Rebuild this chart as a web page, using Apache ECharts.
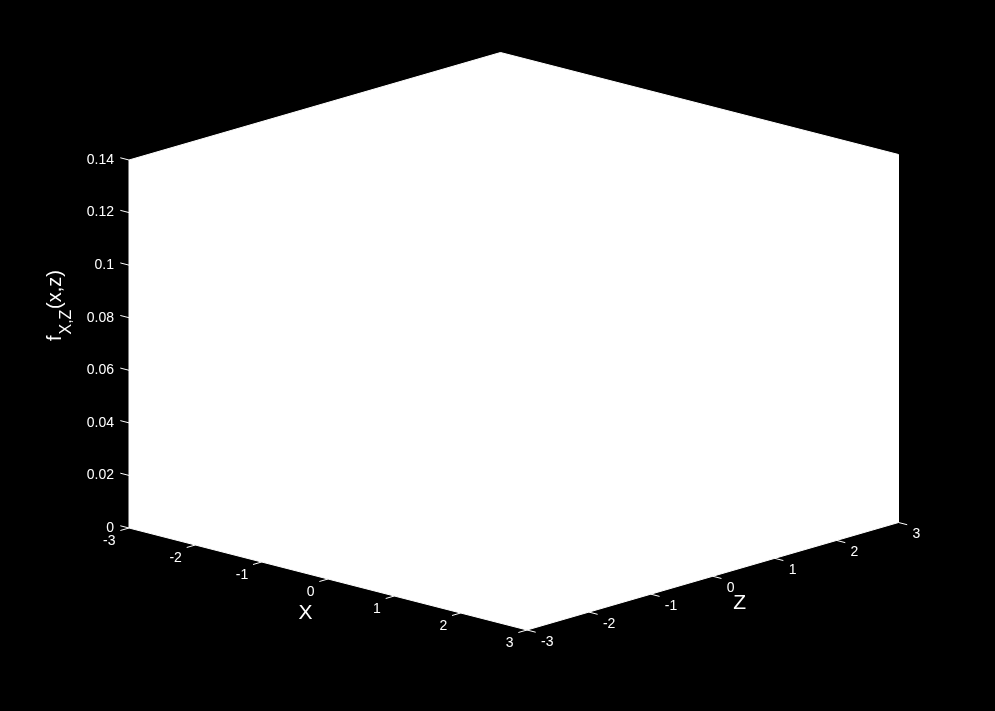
<!DOCTYPE html>
<html>
<head>
<meta charset="utf-8">
<script src="https://cdn.jsdelivr.net/npm/echarts@6/dist/echarts.min.js"></script>
<style>
html,body{margin:0;padding:0;background:#000;}
#c{width:995px;height:711px;}
</style>
</head>
<body>
<div id="c"></div>
<script>
// ---- data ----
const xTicks = [-3, -2, -1, 0, 1, 2, 3];
const zTicks = [-3, -2, -1, 0, 1, 2, 3];
const fTicks = [0, 0.02, 0.04, 0.06, 0.08, 0.1, 0.12, 0.14];
const fTickLabels = ['0', '0.02', '0.04', '0.06', '0.08', '0.1', '0.12', '0.14'];
const xRange = [-3, 3];
const zRange = [-3, 3];
const fRange = [0, 0.14];
const xTitle = 'X';
const zTitle = 'Z';

// ---- projection (orthographic view, layout constants) ----
const ORIGIN = [129, 528];
const EX = [398 / 6, 102 / 6];
const EZ = [371.5 / 6, -107.5 / 6];
const EF = [0, -368 / 0.14];
function proj(x, z, f) {
  const dx = x - xRange[0], dz = z - zRange[0], df = f - fRange[0];
  return [ORIGIN[0] + dx * EX[0] + dz * EZ[0] + df * EF[0],
          ORIGIN[1] + dx * EX[1] + dz * EZ[1] + df * EF[1]];
}
function unit(v) { const l = Math.hypot(v[0], v[1]); return [v[0] / l, v[1] / l]; }
const UX = unit(EX), UZ = unit(EZ);
const TICK = 9;
const FONT = 'Liberation Sans, Arial, Helvetica, sans-serif';
const WHITE = '#ffffff';

const chart = echarts.init(document.getElementById('c'), null, {renderer: 'canvas'});

const option = {
  backgroundColor: '#000000',
  animation: false,
  grid: {left: 0, right: 0, top: 0, bottom: 0},
  xAxis: {type: 'value', min: 0, max: 995, show: false},
  yAxis: {type: 'value', min: 0, max: 711, inverse: true, show: false},
  series: [
    {
      type: 'custom',
      silent: true,
      data: [[0]],
      renderItem: function (params, api) {
        const [x0, x1] = xRange, [z0, z1] = zRange, [f0, f1] = fRange;
        const pts = [
          proj(x0, z0, f0), proj(x1, z0, f0), proj(x1, z1, f0),
          proj(x1, z1, f1), proj(x0, z1, f1), proj(x0, z0, f1)
        ].map(p => api.coord(p));
        return {type: 'polygon', shape: {points: pts}, style: {fill: WHITE, stroke: WHITE, lineWidth: 1}};
      }
    },
    // f (vertical) axis ticks
    {
      type: 'custom',
      silent: true,
      data: fTicks.map((f, i) => [f, i]),
      renderItem: function (params, api) {
        const f = api.value(0), i = api.value(1);
        const p = proj(xRange[0], zRange[0], f);
        const a = api.coord(p);
        const b = api.coord([p[0] - TICK * UX[0], p[1] - TICK * UX[1]]);
        return {type: 'group', children: [
          {type: 'line', shape: {x1: a[0], y1: a[1], x2: b[0], y2: b[1]}, style: {stroke: WHITE, lineWidth: 1}},
          {type: 'text', style: {text: fTickLabels[i], x: a[0] - 15, y: a[1], fill: WHITE,
            font: '14px ' + FONT, align: 'right', verticalAlign: 'middle'}}
        ]};
      }
    },
    // x axis ticks
    {
      type: 'custom',
      silent: true,
      data: xTicks.map(v => [v]),
      renderItem: function (params, api) {
        const x = api.value(0);
        const p = proj(x, zRange[0], fRange[0]);
        const a = api.coord(p);
        const b = api.coord([p[0] - TICK * UZ[0], p[1] - TICK * UZ[1]]);
        return {type: 'group', children: [
          {type: 'line', shape: {x1: a[0], y1: a[1], x2: b[0], y2: b[1]}, style: {stroke: WHITE, lineWidth: 1}},
          {type: 'text', style: {text: String(x), x: a[0] - 13.5, y: a[1] + 13, fill: WHITE,
            font: '14px ' + FONT, align: 'right', verticalAlign: 'middle'}}
        ]};
      }
    },
    // z axis ticks
    {
      type: 'custom',
      silent: true,
      data: zTicks.map(v => [v]),
      renderItem: function (params, api) {
        const z = api.value(0);
        const p = proj(xRange[1], z, fRange[0]);
        const a = api.coord(p);
        const b = api.coord([p[0] + TICK * UX[0], p[1] + TICK * UX[1]]);
        return {type: 'group', children: [
          {type: 'line', shape: {x1: a[0], y1: a[1], x2: b[0], y2: b[1]}, style: {stroke: WHITE, lineWidth: 1}},
          {type: 'text', style: {text: String(z), x: a[0] + 14, y: a[1] + 12, fill: WHITE,
            font: '14px ' + FONT, align: 'left', verticalAlign: 'middle'}}
        ]};
      }
    },
    // axis titles
    {
      type: 'custom',
      silent: true,
      data: [[0]],
      renderItem: function (params, api) {
        const xm = (xRange[0] + xRange[1]) / 2, zm = (zRange[0] + zRange[1]) / 2;
        const px = api.coord(proj(xm, zRange[0], fRange[0]));
        const pz = api.coord(proj(xRange[1], zm, fRange[0]));
        return {type: 'group', children: [
          {type: 'text', style: {text: xTitle, x: px[0] - 22.5, y: px[1] + 34, fill: WHITE,
            font: '21px ' + FONT, align: 'center', verticalAlign: 'middle'}},
          {type: 'text', style: {text: zTitle, x: pz[0] + 27, y: pz[1] + 27, fill: WHITE,
            font: '21px ' + FONT, align: 'center', verticalAlign: 'middle'}}
        ]};
      }
    }
  ],
  graphic: [
    {
      type: 'group',
      x: 55, y: 341,
      rotation: Math.PI / 2,
      silent: true,
      children: [
        {type: 'text', x: 0, y: 0, style: {text: 'f', fill: WHITE, font: '20px ' + FONT, align: 'left', verticalAlign: 'middle'}},
        {type: 'text', x: 6.5, y: 12, style: {text: 'X,Z', fill: WHITE, font: '16px ' + FONT, align: 'left', verticalAlign: 'middle'}},
        {type: 'text', x: 32, y: 0, style: {text: '(x,z)', fill: WHITE, font: '20px ' + FONT, align: 'left', verticalAlign: 'middle'}}
      ]
    }
  ]
};
chart.setOption(option);
</script>
</body>
</html>
